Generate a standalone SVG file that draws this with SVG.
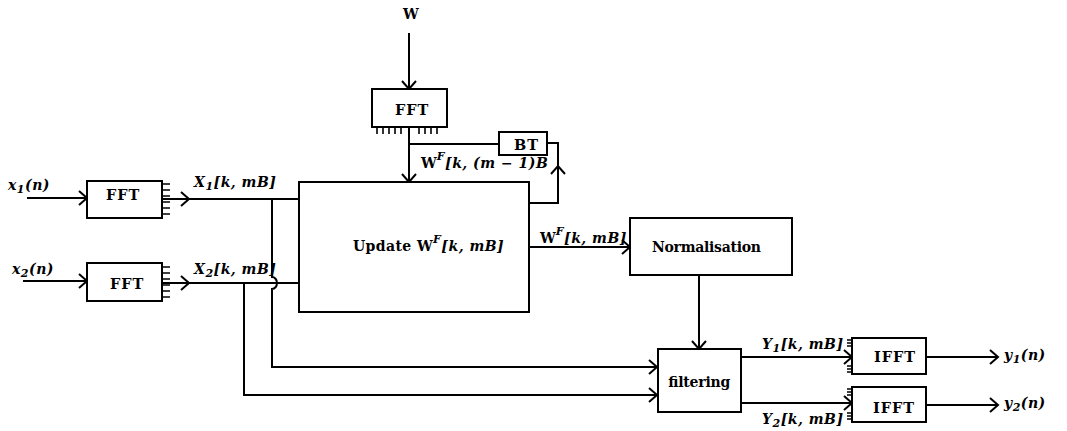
<svg xmlns="http://www.w3.org/2000/svg" width="1067" height="431" viewBox="0 0 1067 431">
<defs>
<style>
.bx{fill:#fff;stroke:#000;stroke-width:2}
.ln{fill:none;stroke:#000;stroke-width:2}
.tk{fill:none;stroke:#000;stroke-width:1.6}
.t{font-family:"DejaVu Serif","Liberation Serif",serif;font-weight:bold;font-size:14px;fill:#000}
.bl{font-size:14.5px;letter-spacing:1px}
.m{font-style:italic;letter-spacing:0.5px}
.s{font-size:11px}
</style>
<marker id="a" viewBox="-10 -10 20 20" markerWidth="20" markerHeight="20" refX="0" refY="0" markerUnits="userSpaceOnUse" orient="auto">
<path d="M-8,-7 L0,0 L-8,7" fill="none" stroke="#000" stroke-width="2"/>
</marker>
</defs>
<rect width="1067" height="431" fill="#fff"/>

<g id="connectors">
<path class="ln" d="M409,33 V89" marker-end="url(#a)"/>
<path class="ln" d="M409,127 V182" marker-end="url(#a)"/>
<path class="ln" d="M409,144 H499"/>
<path class="ln" d="M529,203 H558 V143 H547"/>
<path class="ln" d="M558,170 V166" marker-end="url(#a)"/>
<path class="ln" d="M27,198 H87" marker-end="url(#a)"/>
<path class="ln" d="M23,281 H87" marker-end="url(#a)"/>
<path class="ln" d="M162,199 H189" marker-end="url(#a)"/>
<path class="ln" d="M189,199 H299"/>
<path class="ln" d="M162,283 H189" marker-end="url(#a)"/>
<path class="ln" d="M189,283 H299"/>
<path class="ln" d="M272,199 V277 A5,6 0 0 1 272,289 V367 H657" marker-end="url(#a)"/>
<path class="ln" d="M244,283 V395 H657" marker-end="url(#a)"/>
<path class="ln" d="M529,247 H630" marker-end="url(#a)"/>
<path class="ln" d="M699,275 V349" marker-end="url(#a)"/>
<path class="ln" d="M741,357 H852" marker-end="url(#a)"/>
<path class="ln" d="M741,403 H852" marker-end="url(#a)"/>
<path class="ln" d="M926,357 H998" marker-end="url(#a)"/>
<path class="ln" d="M926,405 H998" marker-end="url(#a)"/>
</g>

<g id="fft-w">
<rect class="bx" x="372" y="89" width="75" height="38"/>
<path class="tk" d="M377,127V134M383,127V134M389,127V134M395,127V134M401,127V134M419,127V134M425,127V134M431,127V134M437,127V134"/>
<text class="t bl" x="395" y="115">FFT</text>
</g>

<g id="bt">
<rect class="bx" x="499" y="132" width="48" height="23"/>
<text class="t bl" x="514" y="150">BT</text>
</g>

<g id="fft1">
<rect class="bx" x="87" y="181" width="75" height="37"/>
<path class="tk" d="M162,184H170M162,190H170M162,196H170M162,202H170M162,208H170M162,214H170"/>
<text class="t bl" x="106" y="200">FFT</text>
</g>

<g id="fft2">
<rect class="bx" x="87" y="263" width="75" height="38"/>
<path class="tk" d="M162,267H170M162,273H170M162,279H170M162,285H170M162,291H170M162,297H170"/>
<text class="t bl" x="110" y="289">FFT</text>
</g>

<g id="update">
<rect class="bx" x="299" y="182" width="230" height="130"/>
<text class="t" x="353" y="251" letter-spacing="0.4">Update W<tspan class="m s" dy="-8">F</tspan><tspan class="m" dy="8">[k, mB]</tspan></text>
</g>

<g id="normalisation">
<rect class="bx" x="630" y="218" width="162" height="57"/>
<text class="t" x="652" y="252" textLength="109" lengthAdjust="spacing">Normalisation</text>
</g>

<g id="filtering">
<rect class="bx" x="658" y="349" width="83" height="63"/>
<text class="t" x="668" y="387" textLength="62" lengthAdjust="spacing">filtering</text>
</g>

<g id="ifft1">
<rect class="bx" x="852" y="338" width="74" height="36"/>
<path class="tk" d="M847,340H852M847,343H852M847,346H852M847,366H852M847,369H852M847,372H852"/>
<text class="t bl" x="874" y="362">IFFT</text>
</g>

<g id="ifft2">
<rect class="bx" x="852" y="387" width="74" height="35"/>
<path class="tk" d="M847,389H852M847,392H852M847,395H852M847,413H852M847,416H852M847,419H852"/>
<text class="t bl" x="873" y="413">IFFT</text>
</g>

<g id="labels">
<text class="t" x="403" y="19">W</text>
<text class="t m" x="8" y="190">x<tspan class="s" dy="3">1</tspan><tspan dy="-3">(n)</tspan></text>
<text class="t m" x="12" y="274">x<tspan class="s" dy="3">2</tspan><tspan dy="-3">(n)</tspan></text>
<text class="t m" x="194" y="187">X<tspan class="s" dy="3">1</tspan><tspan dy="-3">[k, mB]</tspan></text>
<text class="t m" x="194" y="274">X<tspan class="s" dy="3">2</tspan><tspan dy="-3">[k, mB]</tspan></text>
<text class="t" x="421" y="168">W<tspan class="m s" dy="-8">F</tspan><tspan class="m" dy="8">[k, (m − 1)B</tspan></text>
<text class="t" x="540" y="243">W<tspan class="m s" dy="-8">F</tspan><tspan class="m" dy="8">[k, mB]</tspan></text>
<text class="t m" x="762" y="349">Y<tspan class="s" dy="3">1</tspan><tspan dy="-3">[k, mB]</tspan></text>
<text class="t m" x="762" y="424">Y<tspan class="s" dy="3">2</tspan><tspan dy="-3">[k, mB]</tspan></text>
<text class="t m" x="1004" y="360">y<tspan class="s" dy="3">1</tspan><tspan dy="-3">(n)</tspan></text>
<text class="t m" x="1004" y="408">y<tspan class="s" dy="3">2</tspan><tspan dy="-3">(n)</tspan></text>
</g>
</svg>
